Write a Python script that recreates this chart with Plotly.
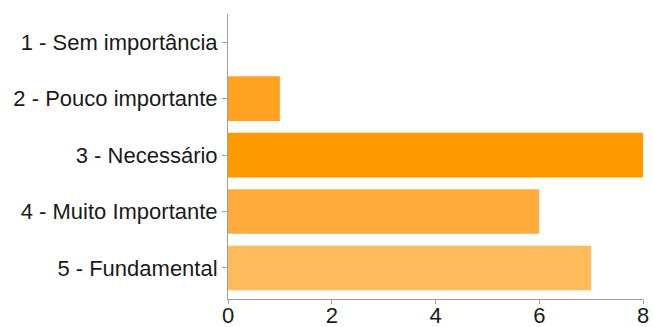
import plotly.graph_objects as go

# Survey answers: importance scale and number of responses
categories = [
    "1 - Sem importância",
    "2 - Pouco importante",
    "3 - Necessário",
    "4 - Muito Importante",
    "5 - Fundamental",
]
counts = [0, 1, 8, 6, 7]
bar_colors = ["#ffb347", "#ffa223", "#ff9900", "#ffab3e", "#ffbb5c"]
x_ticks = [0, 2, 4, 6, 8]

fig = go.Figure(
    go.Bar(
        x=counts,
        y=categories,
        orientation="h",
        marker=dict(color=bar_colors, line=dict(width=0)),
        hoverinfo="x+y",
    )
)

axis_gray = "#a0a0a0"
font_color = "#1a1a1a"

fig.update_layout(
    width=653,
    height=327,
    margin=dict(l=228, r=10, t=14, b=28, autoexpand=False),
    paper_bgcolor="white",
    plot_bgcolor="white",
    showlegend=False,
    bargap=0.21,
    font=dict(family="Liberation Sans, Arial, sans-serif", size=21, color=font_color),
    xaxis=dict(
        range=[0, 8],
        tickvals=x_ticks,
        ticktext=[str(v) for v in x_ticks],
        showgrid=False,
        zeroline=False,
        showline=True,
        linecolor=axis_gray,
        linewidth=1,
        ticks="outside",
        ticklen=4,
        tickcolor=axis_gray,
        tickfont=dict(size=22, color=font_color),
        ticklabelstandoff=-7,
        automargin=False,
        fixedrange=True,
    ),
    yaxis=dict(
        type="category",
        categoryorder="array",
        categoryarray=categories,
        range=[4.55, -0.5],
        showgrid=False,
        zeroline=False,
        showline=True,
        linecolor=axis_gray,
        linewidth=1,
        ticks="outside",
        ticklen=5,
        tickcolor=axis_gray,
        tickfont=dict(size=22, color=font_color),
        automargin=False,
        fixedrange=True,
    ),
)

fig.write_html("out.html", config={"displayModeBar": False})
